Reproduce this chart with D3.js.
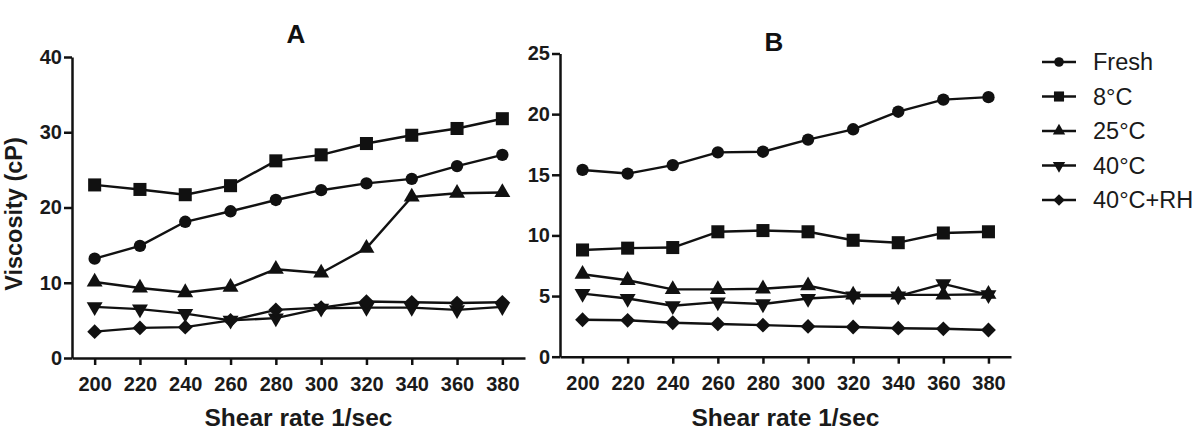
<!DOCTYPE html>
<html>
<head>
<meta charset="utf-8">
<script src="https://cdn.jsdelivr.net/npm/d3@7"></script>
<style>
  body { margin: 0; background: #fff; }
  svg { display: block; font-family: "Liberation Sans", Arial, sans-serif; }
</style>
</head>
<body>
<svg id="chart" width="1201" height="436"></svg>
<script>
// Part 1: Data
const shearRates = [200, 220, 240, 260, 280, 300, 320, 340, 360, 380];
const seriesNames = ["Fresh", "8\u00B0C", "25\u00B0C", "40\u00B0C", "40\u00B0C+RH"];

// panel A
const freshA = [13.2, 14.9, 18.1, 19.5, 21.0, 22.3, 23.2, 23.8, 25.5, 27.0];
const c8A    = [23.0, 22.4, 21.7, 22.9, 26.2, 27.0, 28.5, 29.6, 30.5, 31.8];
const c25A   = [10.1, 9.3, 8.7, 9.4, 11.8, 11.3, 14.6, 21.4, 21.9, 22.0];
const c40A   = [6.8, 6.5, 5.9, 5.0, 5.3, 6.6, 6.7, 6.7, 6.4, 6.8];
const c40rhA = [3.5, 4.0, 4.1, 5.0, 6.4, 6.7, 7.5, 7.4, 7.3, 7.4];

// panel B
const freshB = [15.4, 15.1, 15.8, 16.85, 16.9, 17.9, 18.75, 20.2, 21.2, 21.4];
const c8B    = [8.8, 8.95, 9.0, 10.3, 10.4, 10.3, 9.6, 9.4, 10.2, 10.3];
const c25B   = [6.8, 6.3, 5.55, 5.55, 5.6, 5.85, 5.1, 5.1, 5.1, 5.15];
const c40B   = [5.2, 4.8, 4.2, 4.5, 4.35, 4.8, 5.0, 5.0, 6.0, 5.1];
const c40rhB = [3.05, 3.0, 2.8, 2.7, 2.6, 2.5, 2.45, 2.35, 2.3, 2.2];

const yTicksA = [0, 10, 20, 30, 40];
const yTicksB = [0, 5, 10, 15, 20, 25];

// Part 2: Marker shapes (one per series)
const markers = [
  { type: d3.symbolCircle,   size: 120, rotate: 0 },
  { type: d3.symbolSquare,   size: 170, rotate: 0 },
  { type: d3.symbolTriangle, size: 110, rotate: 0 },
  { type: d3.symbolTriangle, size: 110, rotate: 180 },
  { type: d3.symbolSquare,   size: 110, rotate: 45 }
];

const svg = d3.select('#chart');

// Part 3: Draw one panel
function drawPanel(cfg) {
  const x = d3.scaleLinear().domain([190, 390]).range(cfg.xRange);
  const y = d3.scaleLinear().domain(cfg.yDomain).range(cfg.yRange);

  const g = svg.append('g').attr('class', 'panel');

  // axes
  const xAxis = d3.axisBottom(x)
                  .tickValues(shearRates)
                  .tickSize(7)
                  .tickSizeOuter(0)
                  .tickPadding(12);
  const yAxis = d3.axisLeft(y)
                  .tickValues(cfg.yTicks)
                  .tickSize(8)
                  .tickSizeOuter(0)
                  .tickPadding(2);

  const xg = g.append('g')
              .attr('transform', `translate(0, ${cfg.yRange[0]})`)
              .call(xAxis);
  const yg = g.append('g')
              .attr('transform', `translate(${cfg.xRange[0]}, 0)`)
              .call(yAxis);

  [xg, yg].forEach(a => {
    a.selectAll('path, line').attr('stroke', '#111').attr('stroke-width', 2.5);
    a.selectAll('text')
     .attr('fill', '#1a1a1a')
     .attr('font-size', 20)
     .attr('font-weight', 'bold')
     .attr('font-family', '"Liberation Sans", Arial, sans-serif');
  });

  // lines + markers
  const line = d3.line().x((d, i) => x(shearRates[i])).y(d => y(d));
  cfg.series.forEach((vals, si) => {
    g.append('path')
     .datum(vals)
     .attr('d', line)
     .attr('fill', 'none')
     .attr('stroke', '#111')
     .attr('stroke-width', 2.4)
     .attr('stroke-linejoin', 'round');

    const m = markers[si];
    const sym = d3.symbol().type(m.type).size(m.size);
    g.selectAll(null)
     .data(vals)
     .join('path')
     .attr('d', sym)
     .attr('transform', (d, i) => `translate(${x(shearRates[i])}, ${y(d)}) rotate(${m.rotate})`)
     .attr('fill', '#111');
  });

  // panel letter
  g.append('text')
   .attr('x', cfg.titleX)
   .attr('y', cfg.titleY)
   .attr('text-anchor', 'middle')
   .attr('font-size', 26)
   .attr('font-weight', 'bold')
   .attr('fill', '#111')
   .text(cfg.title);

  // x axis title
  g.append('text')
   .attr('x', (cfg.xRange[0] + cfg.xRange[1]) / 2)
   .attr('y', 426)
   .attr('text-anchor', 'middle')
   .attr('font-size', 24.5)
   .attr('font-weight', 'bold')
   .attr('fill', '#1a1a1a')
   .text('Shear rate 1/sec');
}

drawPanel({
  title: 'A', titleX: 296, titleY: 43,
  xRange: [72, 525], yRange: [358, 57],
  yDomain: [0, 40], yTicks: yTicksA,
  series: [freshA, c8A, c25A, c40A, c40rhA]
});

drawPanel({
  title: 'B', titleX: 774, titleY: 51,
  xRange: [560, 1011], yRange: [356.7, 53.5],
  yDomain: [0, 25], yTicks: yTicksB,
  series: [freshB, c8B, c25B, c40B, c40rhB]
});

// Part 4: Y axis title (panel A only)
svg.append('text')
   .attr('transform', 'translate(22, 214) rotate(-90)')
   .attr('text-anchor', 'middle')
   .attr('font-size', 23.5)
   .attr('font-weight', 'bold')
   .attr('fill', '#1a1a1a')
   .text('Viscosity (cP)');

// Part 5: Legend
const legendY = d3.scalePoint().domain(seriesNames).range([62, 200]);
const legend = svg.append('g').attr('class', 'legend');
seriesNames.forEach((name, si) => {
  const cy = legendY(name);
  legend.append('line')
        .attr('x1', 1042).attr('x2', 1076)
        .attr('y1', cy).attr('y2', cy)
        .attr('stroke', '#111')
        .attr('stroke-width', 2.4);
  const m = markers[si];
  legend.append('path')
        .attr('d', d3.symbol().type(m.type).size(m.size * 0.6))
        .attr('transform', `translate(1059, ${cy}) rotate(${m.rotate})`)
        .attr('fill', '#111');
  legend.append('text')
        .attr('x', 1093)
        .attr('y', cy + 8)
        .attr('font-size', 23.5)
        .attr('fill', '#1a1a1a')
        .text(name);
});
</script>
</body>
</html>
